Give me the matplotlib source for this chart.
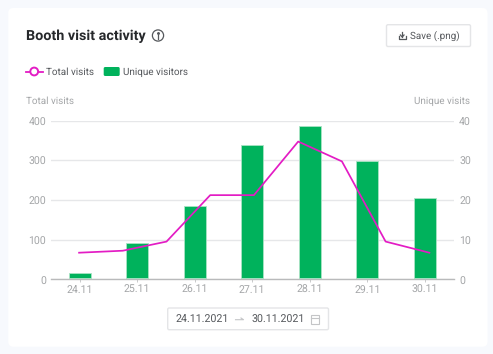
import matplotlib
matplotlib.use("Agg")
import matplotlib.pyplot as plt
from matplotlib.patches import FancyBboxPatch, Rectangle, Circle
from matplotlib.lines import Line2D
from matplotlib.transforms import Affine2D

plt.rcParams['font.family'] = ['Roboto', 'DejaVu Sans']
plt.rcParams['text.hinting'] = 'no_hinting'

dates = ['24.11', '25.11', '26.11', '27.11', '28.11', '29.11', '30.11']
unique_visitors = [1.7, 9.1, 18.4, 33.9, 38.6, 29.7, 20.6]
total_x = [-0.01, 0.75, 1.51, 2.27, 3.03, 3.8, 4.56, 5.32, 6.08]
total_visits = [67, 72, 95, 212, 212, 347, 297, 95, 67]
left_ticks = [0, 100, 200, 300, 400]
right_ticks = [0, 10, 20, 30, 40]

W, H = 493, 354
fig = plt.figure(figsize=(W/100, H/100), dpi=100, facecolor='#f7f9fd')

# overlay in pixel coordinates
ov = fig.add_axes([0, 0, 1, 1], zorder=0)
ov.set_xlim(0, W); ov.set_ylim(H, 0); ov.axis('off')

def rbox(x0, y0, x1, y1, r, fc, ec='none', lw=0, z=1):
    ov.add_patch(FancyBboxPatch((x0+r, y0+r), x1-x0-2*r, y1-y0-2*r,
                 boxstyle=f"round,pad={r},rounding_size={r}", fc=fc, ec=ec, lw=lw, zorder=z))

rbox(8.3, 8, 487.5, 346.7, 5, 'white')
DARK = '#26282b'; MID = '#55585c'; GREY = '#a4a6a8'; MAG = '#e31cc4'; GREEN = '#00b25c'
FS = 7.1
TS = 7.6

ov.text(25.5, 36.3, 'Booth visit activity', fontsize=10.4, fontweight='bold', color=DARK, va='center', ha='left')
ov.add_patch(Circle((158, 35.5), 5.6, fc='none', ec=MID, lw=0.9, zorder=3))
ov.plot([158, 158], [34.5, 38.8], color=MID, lw=0.9, zorder=3)
ov.plot([158], [32.6], 'o', ms=1.1, color=MID, zorder=3)

rbox(386.5, 24.7, 470.5, 46.5, 1.5, 'white', '#e4e5e7', 1)
ov.text(410.5, 36, 'Save (.png)', fontsize=FS, color=MID, va='center', ha='left')
ov.plot([398.5, 398.5, 405.8, 405.8], [36, 39, 39, 36], color=MID, lw=0.9, zorder=3)
ov.plot([402.2, 402.2], [31.5, 37], color=MID, lw=0.9, zorder=3)
ov.plot([400.4, 402.2, 404], [35, 37, 35], color=MID, lw=0.9, zorder=3)

ov.plot([25.5, 43], [71.5, 71.5], color=MAG, lw=1.3, zorder=3)
ov.add_patch(Circle((34.2, 71.5), 3.9, fc='white', ec=MAG, lw=1.4, zorder=4))
ov.text(46, 72, 'Total visits', fontsize=FS, color=MID, va='center', ha='left')
rbox(103.7, 67, 119.7, 76, 1.5, GREEN)
ov.text(122.7, 72, 'Unique visitors', fontsize=FS, color=MID, va='center', ha='left')

ov.text(26, 101.5, 'Total visits', fontsize=FS, color=GREY, va='center', ha='left')
ov.text(470.5, 101.5, 'Unique visits', fontsize=FS, color=GREY, va='center', ha='right')

rbox(167.7, 308, 328.5, 329.7, 1.5, 'white', '#e4e5e7', 1)
ov.text(176, 319.7, '24.11.2021', fontsize=7.7, color=MID, va='center', ha='left')
ov.text(251, 319.7, '30.11.2021', fontsize=7.7, color=MID, va='center', ha='left')
ov.plot([235.5, 243.5, 241], [319.7, 319.7, 318], color='#c4c5c7', lw=0.8, zorder=3)
ov.add_patch(Rectangle((310.5, 315), 8, 8.5, fc='none', ec='#c4c5c7', lw=0.8, zorder=3))
ov.plot([310.5, 318.5], [317.5, 317.5], color='#c4c5c7', lw=0.8, zorder=3)

# chart
x0, x1, yt, yb = 50.9, 453.5, 120.5, 279.3
ax = fig.add_axes([x0/W, 1-yb/H, (x1-x0)/W, (yb-yt)/H], zorder=2)
ax.patch.set_alpha(0)
ax.set_xlim(-0.5, 6.5)
ax.set_ylim(0, 400)
ax.set_yticks(left_ticks)
ax.set_xticks(range(len(dates)), dates)
ax.grid(axis='y', color='#e6e7e9', lw=1)
ax.set_axisbelow(True)
for s in ['top', 'left', 'right']:
    ax.spines[s].set_visible(False)
ax.spines['bottom'].set_color('#b9babb')
ax.spines['bottom'].set_linewidth(1)
ax.tick_params(axis='y', length=0, pad=3.5, labelsize=TS, labelcolor=GREY)
ax.tick_params(axis='x', length=2, width=0.7, color='#c9cacb', pad=2, labelsize=TS, labelcolor=GREY)

ax2 = ax.twinx()
ax2.set_ylim(0, 40)
ax2.set_yticks(right_ticks)
for s in ax2.spines.values():
    s.set_visible(False)
ax2.tick_params(axis='y', length=0, pad=4, labelsize=TS, labelcolor=GREY)
ax2.bar(range(len(dates)), [v-0.4 for v in unique_visitors], bottom=0.4, width=0.38, color=GREEN,
        edgecolor='#a9e3c4', linewidth=0.6, zorder=2)

line = Line2D(total_x, total_visits, color=MAG, lw=1.25, zorder=5, transform=ax.transData)
ax2.add_line(line)

for a in (ax, ax2):
    for lab in a.get_yticklabels():
        lab.set_transform(lab.get_transform() + Affine2D().translate(0, -1))

fig.savefig('out.png', dpi=100, facecolor=fig.get_facecolor())
